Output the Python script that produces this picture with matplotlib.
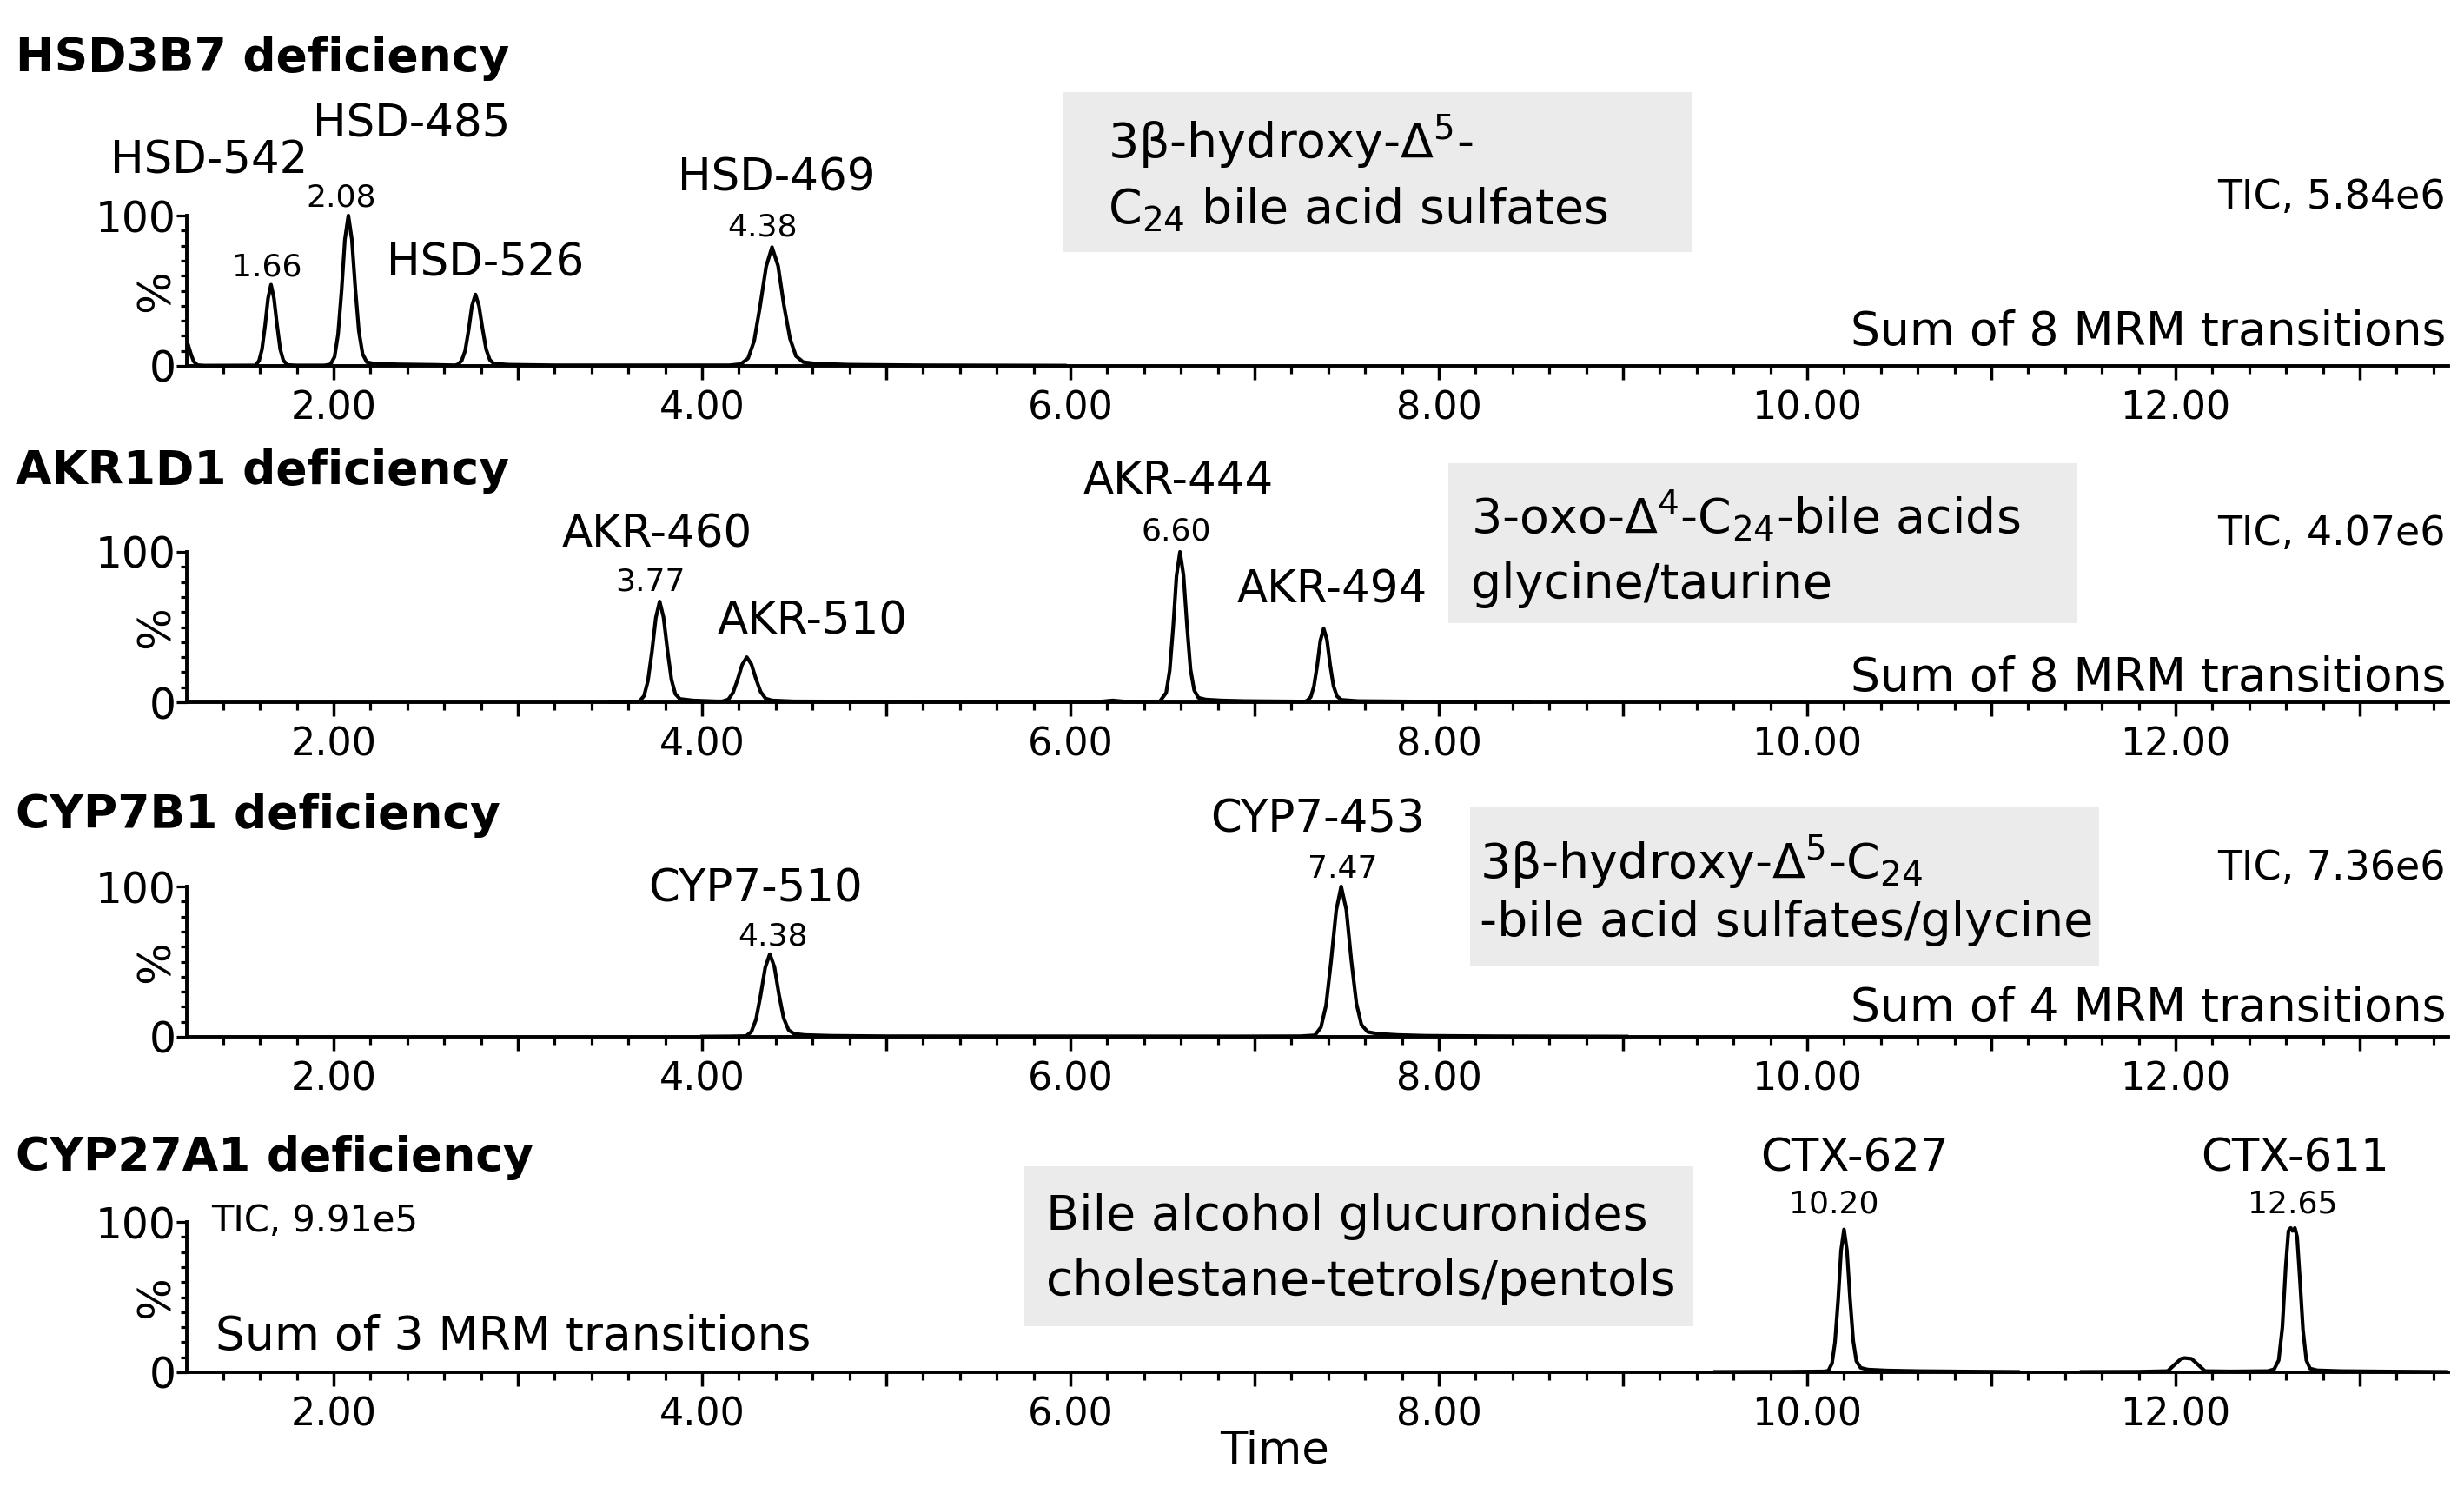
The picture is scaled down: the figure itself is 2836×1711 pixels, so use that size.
import numpy as np
import matplotlib
matplotlib.use("Agg")
import matplotlib.pyplot as plt
from matplotlib.ticker import MultipleLocator, FixedLocator, FuncFormatter
from matplotlib.patches import Rectangle

# ---- data (time in min, relative intensity in %) ----
hsd_time = [1.21, 1.225, 1.24, 1.26, 1.30,
            1.575, 1.595, 1.611, 1.628, 1.644, 1.66, 1.676, 1.693, 1.710, 1.727, 1.75, 1.80,
            1.95, 1.983, 2.005, 2.024, 2.043, 2.061, 2.08, 2.099, 2.118, 2.137, 2.157, 2.18, 2.22, 2.35, 2.55,
            2.66, 2.675, 2.695, 2.714, 2.733, 2.751, 2.77, 2.789, 2.808, 2.828, 2.848, 2.87, 2.95, 3.2,
            4.15, 4.21, 4.25, 4.283, 4.315, 4.348, 4.38, 4.413, 4.445, 4.478, 4.51, 4.55, 4.62, 4.8, 5.2, 5.97]
hsd_pct = [14, 8, 3, 0.5, 0.2,
           0.3, 3.4, 11, 27, 45, 54, 45, 27, 11, 3.6, 0.6, 0.3,
           0.3, 1, 6, 21, 50, 84, 100, 84, 51, 23, 8, 2.5, 1.5, 1.0, 0.7,
           0.4, 1, 3.5, 10, 24, 40, 47.5, 40, 25, 11, 4, 1.5, 0.8, 0.4,
           0.4, 1.2, 5, 16.6, 39.5, 66, 79, 66.5, 40, 18, 6.5, 2.5, 1.5, 0.8, 0.4, 0.2]

akr_time = [3.50, 3.60,
            3.66, 3.685, 3.706, 3.728, 3.749, 3.77, 3.791, 3.813, 3.834, 3.855, 3.88, 3.95, 4.08,
            4.11, 4.143, 4.168, 4.193, 4.218, 4.243, 4.268, 4.293, 4.318, 4.345, 4.38, 4.5, 5.0, 5.8,
            6.15, 6.23, 6.30,
            6.485, 6.52, 6.539, 6.558, 6.576, 6.595, 6.614, 6.633, 6.652, 6.672, 6.695, 6.735, 6.82, 6.95,
            7.272, 7.284, 7.305, 7.322, 7.34, 7.357, 7.375, 7.393, 7.41, 7.428, 7.447, 7.472, 7.56, 8.0, 8.49]
akr_pct = [0.2, 0.3,
           0.6, 4.2, 14, 33.5, 56, 67, 56.5, 34, 15, 5.5, 2.2, 1.2, 0.6,
           0.6, 1.9, 6.3, 15, 25, 30, 25.3, 15.5, 7, 2.5, 1.2, 0.6, 0.4, 0.3,
           0.3, 1.2, 0.4,
           0.5, 6.3, 21, 50, 84, 100, 84.5, 51, 22, 8, 3, 1.8, 1.2, 0.8,
           0.5, 1, 3.5, 10.5, 24.5, 41, 49, 41.5, 25, 11, 4, 1.6, 0.8, 0.4, 0.2]

cyp_time = [4.0, 4.15,
            4.24, 4.268, 4.293, 4.318, 4.343, 4.368, 4.393, 4.418, 4.443, 4.47, 4.50, 4.56, 4.7, 5.0,
            6.9, 7.25, 7.327, 7.36, 7.388, 7.415, 7.443, 7.47, 7.498, 7.525, 7.553, 7.58, 7.615, 7.67,
            7.78, 7.93, 8.3, 9.02]
cyp_pct = [0.2, 0.3,
           0.5, 3.4, 11.5, 27.5, 46, 55, 46.5, 28, 12.5, 4.5, 2, 1.2, 0.7, 0.4,
           0.3, 0.4, 1, 6.3, 21, 50, 84, 100, 84.5, 51, 22, 8, 3.2, 2,
           1.2, 0.7, 0.4, 0.2]

# CYP27A1 trace was acquired in two time windows
ctx_time_a = [9.50, 9.9, 10.09, 10.115, 10.135, 10.151, 10.168, 10.184, 10.20, 10.216, 10.233,
              10.25, 10.267, 10.29, 10.33, 10.43, 10.6, 10.9, 11.145]
ctx_pct_a = [0.3, 0.4, 0.6, 1, 6, 20, 48, 81, 95, 81, 48.5,
             21, 7.5, 3, 1.8, 1.2, 0.8, 0.5, 0.3]
ctx_time_b = [11.49, 11.8, 11.957, 12.03, 12.05, 12.087, 12.16, 12.3, 12.50, 12.535, 12.56, 12.58,
              12.598, 12.613, 12.625, 12.635, 12.648, 12.66, 12.675, 12.692, 12.71, 12.73, 12.77,
              12.9, 13.2, 13.47]
ctx_pct_b = [0.3, 0.4, 0.8, 9, 9.5, 9, 0.8, 0.6, 0.8, 2, 8, 30,
             70, 94, 96, 94, 96, 90, 62, 28, 8, 2.5, 1.3,
             0.8, 0.5, 0.3]

panel_titles = ["HSD3B7 deficiency", "AKR1D1 deficiency", "CYP7B1 deficiency", "CYP27A1 deficiency"]
tic_labels = ["TIC, 5.84e6", "TIC, 4.07e6", "TIC, 7.36e6", "TIC, 9.91e5"]
mrm_labels = ["Sum of 8 MRM transitions", "Sum of 8 MRM transitions",
              "Sum of 4 MRM transitions", "Sum of 3 MRM transitions"]
peak_names = [["HSD-542", "HSD-485", "HSD-526", "HSD-469"],
              ["AKR-460", "AKR-510", "AKR-444", "AKR-494"],
              ["CYP7-510", "CYP7-453"],
              ["CTX-627", "CTX-611"]]
rt_labels = [["1.66", "2.08", "4.38"], ["3.77", "6.60"], ["4.38", "7.47"], ["10.20", "12.65"]]
box_lines = [[r"3β-hydroxy-Δ$^{5}$-", r"C$_{24}$ bile acid sulfates"],
             [r"3-oxo-Δ$^{4}$-C$_{24}$-bile acids", "glycine/taurine"],
             [r"3β-hydroxy-Δ$^{5}$-C$_{24}$", "-bile acid sulfates/glycine"],
             ["Bile alcohol glucuronides", "cholestane-tetrols/pentols"]]

# ---- layout (pixels from top-left of the 2836x1711 image) ----
W, H = 2836, 1711
def fx(px):
    return px / W
def fy(py):
    return 1 - py / H

zero_y = [421, 808, 1193, 1579]
axis_h = 173
ax_left, ax_right = 215, 2818
px_two, px_per_min = 384, 212.0     # where 2.00 sits, and scale
title_base = [82, 557, 953, 1347]
name_pos = [[(241, 200), (474, 157), (559, 318), (894, 220)],
            [(756, 630), (935, 730), (1356, 568), (1533, 693)],
            [(869, 1037), (1516, 958)],
            [(2134, 1347), (2641, 1347)]]
rt_pos = [[(307, 317), (393, 237), (878, 272)],
          [(748, 680), (1354, 622)],
          [(890, 1088), (1545, 1010)],
          [(2111, 1395), (2639, 1395)]]
tic_pos = [(2815, 240, "right", 33), (2815, 627, "right", 33), (2815, 1012, "right", 33),
           (243, 1417, "left", 30)]
mrm_pos = [(2815, 397, "right"), (2815, 795, "right"), (2815, 1175, "right"), (248, 1553, "left")]
boxes = [(1223, 106, 1947, 290), (1667, 533, 2390, 717), (1692, 928, 2416, 1112), (1179, 1342, 1949, 1526)]
box_text = [(1275, 181, 257), (1693, 613, 688), (1703, 1010, 1077), (1204, 1415, 1490)]

plt.rcParams["font.family"] = ["DejaVu Sans"]
plt.rcParams["mathtext.fontset"] = "dejavusans"
plt.rcParams["mathtext.default"] = "regular"

fig = plt.figure(figsize=(W / 100, H / 100), dpi=100)

x_lo = 2 - (px_two - ax_left) / px_per_min
x_hi = 2 + (ax_right - px_two) / px_per_min

traces = [[(hsd_time, hsd_pct)], [(akr_time, akr_pct)], [(cyp_time, cyp_pct)],
          [(ctx_time_a, ctx_pct_a), (ctx_time_b, ctx_pct_b)]]

def even_only(v, pos):
    return f"{v:.2f}" if int(round(v)) % 2 == 0 else ""

for i in range(4):
    # grey annotation box behind everything
    x0, y0, x1, y1 = boxes[i]
    fig.patches.append(Rectangle((fx(x0), fy(y1)), fx(x1) - fx(x0), fy(y0) - fy(y1),
                                 transform=fig.transFigure, facecolor="#ebebeb",
                                 edgecolor="none", zorder=0))

    ax = fig.add_axes([fx(ax_left), fy(zero_y[i]), fx(ax_right) - fx(ax_left), axis_h / H])
    ax.patch.set_alpha(0)
    for t, p in traces[i]:
        ax.plot(t, p, color="black", lw=3.0, clip_on=False, solid_joinstyle="round")
    ax.set_xlim(x_lo, x_hi)
    ax.set_ylim(0, 100)
    ax.spines["top"].set_visible(False)
    ax.spines["right"].set_visible(False)
    ax.spines["left"].set_linewidth(2.8)
    ax.spines["bottom"].set_linewidth(2.8)

    ax.xaxis.set_major_locator(MultipleLocator(1))
    ax.xaxis.set_minor_locator(MultipleLocator(0.2))
    ax.xaxis.set_major_formatter(FuncFormatter(even_only))
    ax.yaxis.set_major_locator(FixedLocator([0, 100]))
    ax.yaxis.set_minor_locator(MultipleLocator(10))
    ax.tick_params(axis="x", which="major", direction="out", length=11.5, width=2.5,
                   labelsize=32, pad=8)
    ax.tick_params(axis="x", which="minor", direction="out", length=6.5, width=2.3)
    ax.tick_params(axis="y", which="major", direction="out", length=8.6, width=2.3,
                   labelsize=35, pad=0)
    ax.tick_params(axis="y", which="minor", direction="out", length=5, width=2.3)
    ax.text(fx(181 - ax_left) / (fx(ax_right) - fx(ax_left)), 0.5, "%", rotation=90,
            transform=ax.transAxes, ha="center", va="center", fontsize=37)

    fig.text(fx(18), fy(title_base[i]), panel_titles[i], fontsize=38.5, fontweight="bold",
             ha="left", va="baseline")
    for name, (px, py) in zip(peak_names[i], name_pos[i]):
        fig.text(fx(px), fy(py), name, fontsize=37, ha="center", va="baseline")
    for rt, (px, py) in zip(rt_labels[i], rt_pos[i]):
        fig.text(fx(px), fy(py), rt, fontsize=26, ha="center", va="baseline")
    px, py, al, fs = tic_pos[i]
    fig.text(fx(px), fy(py), tic_labels[i], fontsize=fs, ha=al, va="baseline")
    px, py, al = mrm_pos[i]
    fig.text(fx(px), fy(py), mrm_labels[i], fontsize=38.5, ha=al, va="baseline")
    bx, b1, b2 = box_text[i]
    fig.text(fx(bx), fy(b1), box_lines[i][0], fontsize=40, ha="left", va="baseline")
    fig.text(fx(bx), fy(b2), box_lines[i][1], fontsize=40, ha="left", va="baseline")

fig.text(fx(1467), fy(1669), "Time", fontsize=37, ha="center", va="center")

fig.savefig("out.png", dpi=100, facecolor="white")
